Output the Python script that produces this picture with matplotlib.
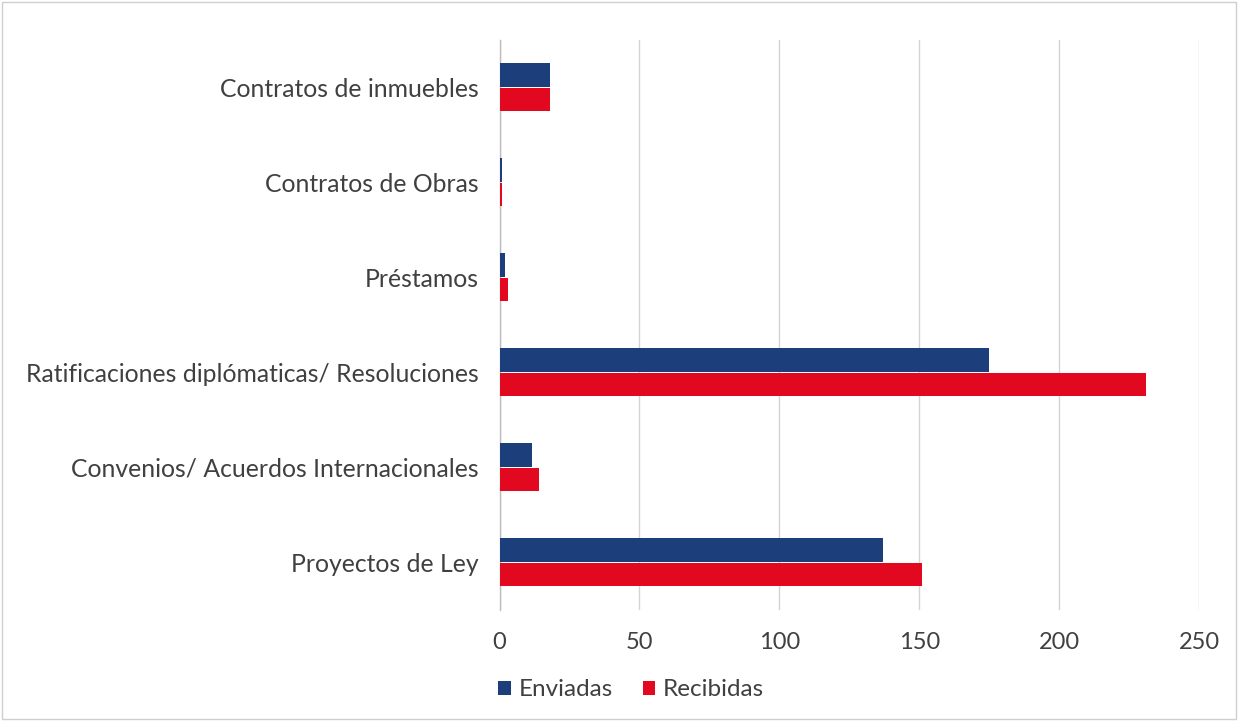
import matplotlib
matplotlib.use("Agg")
import matplotlib.pyplot as plt
from matplotlib.patches import Patch, Rectangle
import numpy as np

categories = ["Contratos de inmuebles", "Contratos de Obras", "Préstamos",
              "Ratificaciones diplómaticas/ Resoluciones",
              "Convenios/ Acuerdos Internacionales", "Proyectos de Ley"]
enviadas = [18, 1, 2, 175, 11.5, 137]
recibidas = [18, 1, 3, 231, 14, 151]
xticks = [0, 50, 100, 150, 200, 250]
series_names = ["Enviadas", "Recibidas"]

c_env = "#1C3F7C"
c_rec = "#E2081F"
txt = "#404040"

plt.rcParams['font.family'] = ['Lato', 'DejaVu Sans']

fig = plt.figure(figsize=(12.38, 7.21), dpi=100)
ax = fig.add_axes([0.4035, 0.1546, 0.565, 0.7904])

n = len(categories)
y = np.arange(n)[::-1].astype(float)
h = 0.245
off = 0.128
ax.barh(y + off, enviadas, height=h, color=c_env, linewidth=0, zorder=3)
ax.barh(y - off, recibidas, height=h, color=c_rec, linewidth=0, zorder=3)

ax.set_xlim(0, 250)
ax.set_ylim(-0.5, n - 0.5)
ax.set_xticks(xticks)
ax.set_xticklabels([str(t) for t in xticks], fontsize=17, color=txt)
ax.set_yticks(y)
ax.set_yticklabels(categories, fontsize=17.8, color=txt)
ax.tick_params(axis="y", length=0, pad=15)
ax.tick_params(axis="x", length=0, pad=16)
ax.grid(axis="x", color="#d4d4d4", linewidth=1.0, zorder=0)
for s in ["top", "right", "bottom"]:
    ax.spines[s].set_visible(False)
ax.spines["left"].set_color("#bdbdbd")
ax.spines["left"].set_linewidth(1.0)

handles = [Patch(facecolor=c_env, label=series_names[0]),
           Patch(facecolor=c_rec, label=series_names[1])]
leg = fig.legend(handles=handles, loc="center", bbox_to_anchor=(0.51, 0.043), ncol=2,
                 frameon=False, handlelength=0.5, handleheight=0.5,
                 handletextpad=0.35, columnspacing=1.2, prop={'size': 17.5})
for t in leg.get_texts():
    t.set_color(txt)

fig.patches.append(Rectangle((0.002, 0.003), 0.996, 0.994, transform=fig.transFigure,
                             fill=False, edgecolor="#cfcfcf", linewidth=1.0))

fig.savefig("out.png", dpi=100, facecolor="white")
